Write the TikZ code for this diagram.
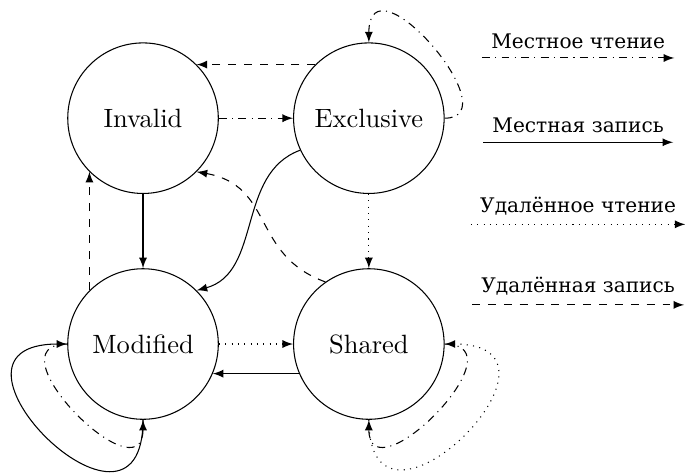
\documentclass[tikz,border=0pt]{standalone}
\usepackage{fontspec}
\newfontfamily\cyrfont[Scale=0.76]{DejaVu Serif}

\begin{document}
\begin{tikzpicture}[>=latex,
    state/.style={circle,draw,minimum size=2cm},
    locread/.style={->,dash dot},
    locwrite/.style={->},
    remread/.style={->,dotted},
    remwrite/.style={->,dashed},
    legend/.style={anchor=south,font=\cyrfont}]

\useasboundingbox (-1.9,-1.71) rectangle (7.2,4.57);

% States of the protocol
\node[state] (M) at (0,0) {Modified};
\node[state] (I) at (0,3) {Invalid};
\node[state] (E) at (3,3) {Exclusive};
\node[state] (S) at (3,0) {Shared};

% Transitions between states
\draw[locread] (I) -- (E);
\draw[remwrite] (E.135) -- (I.45);
\draw[locwrite] (I) -- (M);
\draw[remwrite] (M.135) -- (I.225);
\draw[locwrite] (E.205) to[out=200,in=15] (M.45);
\draw[remwrite] (S.125) to[out=160,in=-10,looseness=1.2] (I.-45);
\draw[remread] (E) -- (S);
\draw[remread] (M) -- (S);
\draw[locwrite] (S.203) -- (M.-23);

% Loops back into the same state
\draw[locread] (E.east) to[out=0,in=90,out looseness=1.6,in looseness=2.15] (E.north);
\draw[locwrite] (M.south) to[out=-90,in=180,looseness=3.6] (M.west);
\draw[locread] (M.west) to[out=180,in=-90,looseness=1.9] (M.south);
\draw[remread] (S.south) to[out=-90,in=0,looseness=3.5] (S.east);
\draw[locread] (S.east) to[out=0,in=-90,looseness=1.9] (S.south);

% Legend
\node[legend] (lr) at (5.78,3.8) {Местное чтение};
\node[legend] (lw) at (5.78,2.68) {Местная запись};
\node[legend] (rr) at (5.78,1.59) {Удалённое чтение};
\node[legend] (rw) at (5.78,0.52) {Удалённая запись};

\draw[locread] (lr.south west) -- (lr.south east);
\draw[locwrite] (lw.south west) -- (lw.south east);
\draw[remread] (rr.south west) -- (rr.south east);
\draw[remwrite] (rw.south west) -- (rw.south east);

\end{tikzpicture}
\end{document}
